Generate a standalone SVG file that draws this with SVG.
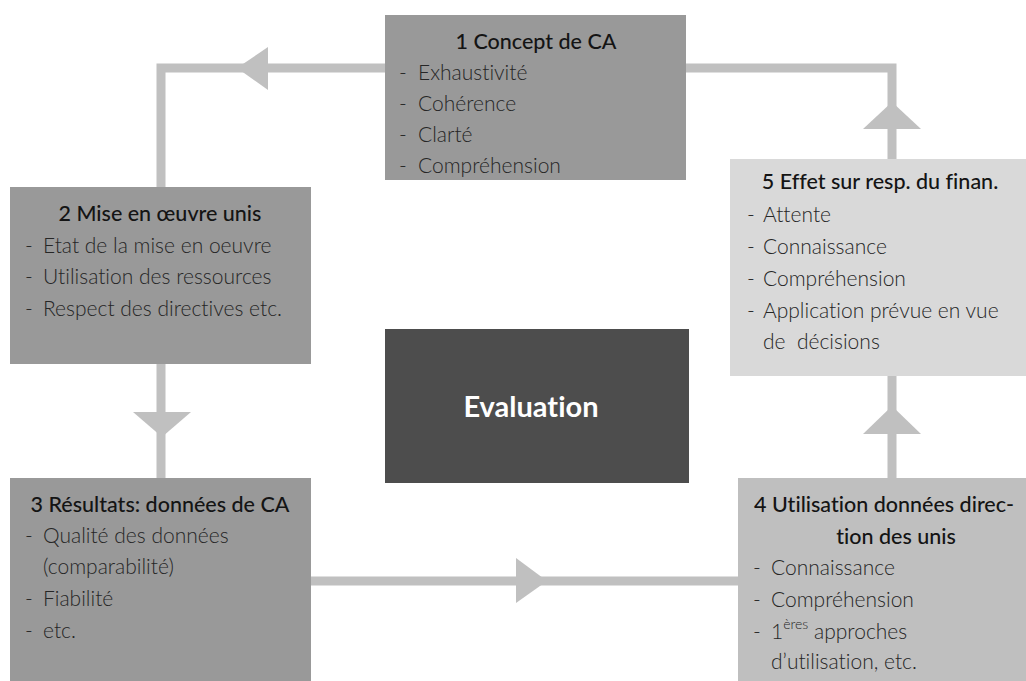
<svg xmlns="http://www.w3.org/2000/svg" width="1026" height="681" viewBox="0 0 1026 681">
<style>
text{font-variant-ligatures:none;font-feature-settings:"liga" 0,"clig" 0}
.t{font-family:Lato,"Open Sans","Liberation Sans",sans-serif;font-size:21.5px;fill:#141414;font-weight:500}
.i{font-family:Lato,"Open Sans","Liberation Sans",sans-serif;font-size:21px;fill:#262626;font-weight:300}
.c{fill:none;stroke:#c0c0c0;stroke-width:9}
.a{fill:#c0c0c0}
</style>
<rect width="1026" height="681" fill="#ffffff"/>
<g id="connectors">
<polyline class="c" points="385,68 161,68 161,187"/>
<polygon class="a" points="237,68 268,47 268,90"/>
<polyline class="c" points="686,68 892,68 892,159"/>
<polygon class="a" points="892,102 863,129 921,129"/>
<line class="c" x1="161" y1="364" x2="161" y2="478"/>
<polygon class="a" points="162,437 133,412 191,412"/>
<line class="c" x1="311" y1="581" x2="738" y2="581"/>
<polygon class="a" points="547,581 516,558 516,603"/>
<line class="c" x1="892" y1="478" x2="892" y2="376"/>
<polygon class="a" points="892,406 863,434 921,434"/>
</g>
<g id="n1">
<rect x="385" y="15" width="301" height="165" fill="#999999"/>
<text class="t" x="536" y="49" text-anchor="middle">1 Concept de CA</text>
<text class="i" x="399" y="80">-</text><text class="i" x="418" y="80">Exhaustivité</text>
<text class="i" x="399" y="111">-</text><text class="i" x="418" y="111">Cohérence</text>
<text class="i" x="399" y="142">-</text><text class="i" x="418" y="142">Clarté</text>
<text class="i" x="399" y="173">-</text><text class="i" x="418" y="173">Compréhension</text>
</g>
<g id="n2">
<rect x="10" y="187" width="301" height="177" fill="#999999"/>
<text class="t" x="160" y="221" text-anchor="middle">2 Mise en œuvre unis</text>
<text class="i" x="25" y="253">-</text><text class="i" x="43" y="253">Etat de la mise en oeuvre</text>
<text class="i" x="25" y="284">-</text><text class="i" x="43" y="284">Utilisation des ressources</text>
<text class="i" x="25" y="316">-</text><text class="i" x="43" y="316">Respect des directives etc.</text>
</g>
<g id="n3">
<rect x="10" y="478" width="301" height="203" fill="#999999"/>
<text class="t" x="160" y="512" text-anchor="middle">3 Résultats: données de CA</text>
<text class="i" x="25" y="543">-</text><text class="i" x="43" y="543">Qualité des données</text>
<text class="i" x="43" y="574">(comparabilité)</text>
<text class="i" x="25" y="606">-</text><text class="i" x="43" y="606">Fiabilité</text>
<text class="i" x="25" y="638">-</text><text class="i" x="43" y="638">etc.</text>
</g>
<g id="n4">
<rect x="738" y="478" width="300" height="203" fill="#bfbfbf"/>
<text class="t" x="884" y="512" text-anchor="middle">4 Utilisation données direc-</text>
<text class="t" x="896" y="544" text-anchor="middle">tion des unis</text>
<text class="i" x="753" y="575">-</text><text class="i" x="771" y="575">Connaissance</text>
<text class="i" x="753" y="607">-</text><text class="i" x="771" y="607">Compréhension</text>
<text class="i" x="753" y="639">-</text><text class="i" x="771" y="639">1<tspan font-size="14" dy="-10">ères</tspan><tspan dy="10"> approches</tspan></text>
<text class="i" x="771" y="669">d’utilisation, etc.</text>
</g>
<g id="n5">
<rect x="730" y="159" width="306" height="217" fill="#d9d9d9"/>
<text class="t" x="880" y="189" text-anchor="middle">5 Effet sur resp. du finan.</text>
<text class="i" x="747" y="222">-</text><text class="i" x="763" y="222">Attente</text>
<text class="i" x="747" y="254">-</text><text class="i" x="763" y="254">Connaissance</text>
<text class="i" x="747" y="286">-</text><text class="i" x="763" y="286">Compréhension</text>
<text class="i" x="747" y="318">-</text><text class="i" x="763" y="318">Application prévue en vue</text>
<text class="i" x="763" y="349">de&#160; décisions</text>
</g>
<g id="center">
<rect x="385" y="329" width="304" height="154" fill="#4d4d4d"/>
<text x="531" y="417" text-anchor="middle" font-family="Lato,'Open Sans','Liberation Sans',sans-serif" font-size="29" font-weight="700" fill="#ffffff">Evaluation</text>
</g>
</svg>
